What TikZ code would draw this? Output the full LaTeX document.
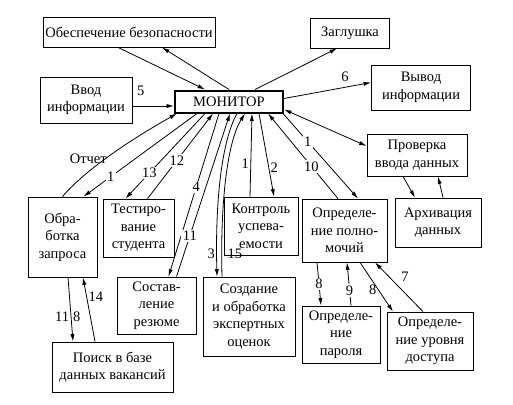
\documentclass[tikz,border=0pt]{standalone}
\usepackage{fontspec}
\setmainfont{Liberation Serif}
\usetikzlibrary{arrows.meta}

\begin{document}
\begin{tikzpicture}[x=1pt,y=-1pt,>={Latex[length=7.5pt,width=4.2pt]},line width=0.8pt,
  blok/.style={draw,align=center,inner sep=2pt,font=\fontsize{14.5}{17.5}\selectfont},
  num/.style={font=\fontsize{14.5}{16}\selectfont,inner sep=1.5pt},
  gap/.style={num,fill=white}]
  \useasboundingbox (0,0) rectangle (513,404);
  \node[blok,minimum width=172pt,minimum height=30pt] (bezop) at (129,32) {Обеспечение безопасности};
  \node[blok,minimum width=79pt,minimum height=30pt] (zagl) at (350,33) {Заглушка};
  \node[blok,minimum width=92pt,minimum height=46pt] (vvod) at (86,100) {Ввод\\информации};
  \node[blok,line width=2pt,minimum width=108pt,minimum height=22pt] (monitor) at (229,101.5) {МОНИТОР};
  \node[blok,minimum width=99pt,minimum height=45pt] (vyvod) at (421,87.5) {Вывод\\информации};
  \node[blok,minimum width=100pt,minimum height=42pt] (prov) at (417,155) {Проверка\\ввода данных};
  \node[blok,minimum width=69pt,minimum height=80pt] (obrab) at (62.5,237) {Обра-\\ботка\\запроса};
  \node[blok,minimum width=71pt,minimum height=58pt] (test) at (138.5,228) {Тестиро-\\вание\\студента};
  \node[blok,minimum width=74pt,minimum height=58pt] (kontr) at (261,226) {Контроль\\успева-\\емости};
  \node[blok,minimum width=85pt,minimum height=63pt] (polnom) at (344.5,230.5) {Определе-\\ние полно-\\мочий};
  \node[blok,minimum width=86pt,minimum height=49pt] (arhiv) at (438,222.5) {Архивация\\данных};
  \node[blok,minimum width=79pt,minimum height=57pt] (rezume) at (156.5,305.5) {Состав-\\ление\\резюме};
  \node[blok,minimum width=92pt,minimum height=79pt] (ekspert) at (249,316.5) {Создание\\и обработка\\экспертных\\оценок};
  \node[blok,minimum width=78pt,minimum height=57pt] (parol) at (341,334.5) {Определе-\\ние\\пароля};
  \node[blok,minimum width=86pt,minimum height=58pt] (uroven) at (430,341) {Определе-\\ние уровня\\доступа};
  \node[blok,minimum width=121pt,minimum height=50pt] (poisk) at (112.5,367) {Поиск в базе\\данных вакансий};

  \draw[->] ([xshift=-11pt]bezop.south) -- ([xshift=-24pt]monitor.north);
  \draw[->] (monitor.north) -- ([xshift=33pt]bezop.south);
  \draw[->] ([xshift=26pt]monitor.north) -- ([xshift=-13pt]zagl.south);
  \draw[->] ([yshift=-6pt]vvod.east) -- node[num,above=8pt,pos=0.2]{5} ([yshift=-4.5pt]monitor.west);
  \draw[->] ([yshift=3pt]monitor.east) -- node[num,above=4pt,pos=0.7]{6} ([yshift=5pt]vyvod.west);
  \draw[<->] ([yshift=4pt]monitor.south east) -- ([yshift=9pt]prov.west);
  \draw[->] ([xshift=-14pt]prov.south) -- ([xshift=-23pt]arhiv.north);
  \draw[->] ([xshift=5pt]arhiv.north) -- ([xshift=21pt]prov.south);

  \draw[->] (obrab.north) .. controls (85,170) and (130,140) .. ([xshift=3pt]monitor.south west)
    node[num,pos=0.3,above=6pt]{Отчет};
  \draw[->] ([xshift=-32pt]monitor.south) -- node[gap,pos=0.76]{1} ([xshift=21pt]obrab.north);
  \draw[->] ([xshift=-24pt]monitor.south) -- node[gap,pos=0.7]{13} ([xshift=-13pt]test.north);
  \draw[->] ([xshift=9pt]test.north) -- node[gap,pos=0.45]{12} ([xshift=-16pt]monitor.south);
  \draw[->] ([xshift=-10pt]monitor.south) -- node[gap,pos=0.45]{4} ([xshift=12pt]rezume.north);
  \draw[->] ([xshift=20pt]rezume.north) -- node[gap,pos=0.25]{11} ([xshift=1pt]monitor.south);
  \draw[->] ([xshift=8pt]monitor.south) .. controls +(-15,27) and +(-2,-77) .. ([xshift=-32pt]ekspert.north)
    node[num,pos=0.9,left]{3};
  \draw[->] ([xshift=-27pt]ekspert.north) .. controls +(-2,-77) and +(-17,27) .. ([xshift=16pt]monitor.south)
    node[num,pos=0.1,right=4pt]{15};
  \draw[->] ([xshift=-11pt]kontr.north) -- node[num,left,pos=0.4]{1} ([xshift=23pt]monitor.south);
  \draw[->] ([xshift=30pt]monitor.south) -- node[num,right,pos=0.65]{2} ([xshift=13pt]kontr.north);
  \draw[->] ([xshift=-6.5pt]polnom.north) -- node[gap,pos=0.38]{10} ([xshift=39pt]monitor.south);
  \draw[->] ([xshift=-1pt]monitor.south east) -- node[gap,pos=0.33]{1} ([xshift=13.5pt]polnom.north);

  \draw[->] ([xshift=-27.5pt]polnom.south) -- node[gap,pos=0.5]{8} ([xshift=-20pt]parol.north);
  \draw[->] ([xshift=10pt]parol.north) -- node[gap,pos=0.35]{9} ([xshift=2.5pt]polnom.south);
  \draw[->] ([xshift=15.5pt]polnom.south) -- node[num,left,pos=0.55]{8} ([xshift=-37pt]uroven.north);
  \draw[->] ([xshift=-7pt]uroven.north) -- node[num,pos=0.7,right=10pt]{7} ([xshift=30.5pt]polnom.south);
  \draw[->] ([xshift=5.5pt]obrab.south) -- node[num,pos=0.62,left]{11} node[num,pos=0.62,right]{8} ([xshift=-39.5pt]poisk.north);
  \draw[->] ([xshift=-17.5pt]poisk.north) -- node[num,pos=0.7,right]{14} ([xshift=20.5pt]obrab.south);
\end{tikzpicture}
\end{document}
